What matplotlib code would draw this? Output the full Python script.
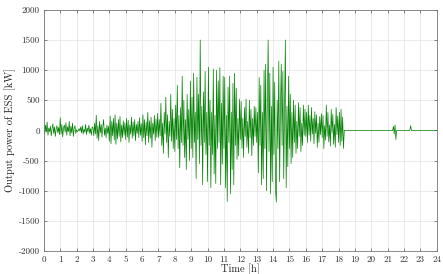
import numpy as np
import matplotlib
matplotlib.use("Agg")
import matplotlib.pyplot as plt

plt.rcParams['font.family'] = ['cmr10', 'DejaVu Serif']
plt.rcParams['axes.unicode_minus'] = False
plt.rcParams['mathtext.fontset'] = 'cm'

# ESS output power [kW], one value every 3 min (0.05 h), 0 h .. 18.3 h
busy_p = [
    20, -60, 90, -30, 140, -80, 40, -20, 70, -90, 30, 110, -50, 60, -100, 20, 80, -40, 50, -70,
    210, -60, 100, -110, 40, 90, -30, 130, -80, 60, -20, 150, -90, 70, -40, 120, -100, 30, 80, -50,
    10, -20, 0, 30, -10, 60, -40, 80, -60, 20, -30, 100, -70, 40, -20, 90, -50, 30, -80, 60,
    40, -90, 120, -60, 250, -130, 80, -170, 150, -40, 100, -110, 60, 180, -80, 40, -120, 90, -50, 70,
    -180, 240, -220, 150, -90, 200, -160, 260, -230, 120, -140, 180, -100, 230, -190, 90, -120, 160, -80, 130,
    -150, 200, -110, 170, -200, 90, -60, 220, -130, 140, -90, 180, -170, 100, -50, 150, -120, 210, -80, 110,
    -180, 260, -120, 180, -240, 140, -90, 300, -200, 160, -130, 220, -280, 120, -60, 250, -170, 190, -110, 280,
    -120, 180, -90, 450, -250, 120, -380, 300, -60, 550, -200, 260, -450, 150, -100, 600, -180, 350, -300, 200,
    -350, 420, -150, 750, -300, 250, -620, 380, -200, 900, -250, 500, -450, 180, -650, 600, -150, 350, -500, 820,
    -300, 550, -450, 950, -200, 300, -800, 880, -150, 600, -550, 1500, -250, 400, -900, 640, -200, 980, -400, 300,
    -850, 1050, -250, 500, -950, 300, -400, 1020, -720, 250, -880, 1000, -300, 820, -200, 1040, -900, 450, -560, 900,
    -300, 880, -950, 250, -1180, 720, -200, 900, -1050, 300, -650, 780, -900, 950, -250, 700, -480, 200, -420, 520,
    -150, 480, -300, 200, -450, 380, -100, 520, -280, 150, -380, 500, -120, 350, -420, 200, -250, 400, -100, 380,
    -200, 300, -700, 880, -250, 750, -900, 300, -800, 1000, -300, 1100, -1000, 450, 1500, -350, 950, -1050, 400, -850,
    1050, -400, 800, -1000, -1190, 500, -300, 1150, -850, 350, 1100, -250, 980, -800, 300, 1500, -950, 400, -600, 900,
    -300, 600, -550, 300, -450, 500, -200, 420, -380, 150, -300, 460, -100, 380, -350, 120, -250, 420, -80, 350,
    -100, 300, -200, 420, -80, 250, -180, 380, -60, 200, -220, 310, -50, 260, -280, 120, -200, 230, -70, 280,
    -120, 250, -300, 80, -160, 420, -100, 300, -190, 90, -260, 350, -50, 270, -230, 100, -280, 380, -70, 240,
    -200, 300, -250, 350, -180, 220, -300,
]
busy_t = np.arange(len(busy_p)) * 0.05

# idle period: zero except two short events
idle_t = [18.35, 21.3, 21.35, 21.4, 21.45, 21.5, 21.55, 22.35, 22.4, 22.45, 24.0]
idle_p = [0, 0, 70, -60, 90, -150, 0, 0, 80, 0, 0]

t = np.concatenate([busy_t, idle_t])
p = np.concatenate([busy_p, idle_p])

fig = plt.figure(figsize=(4.43, 2.74), dpi=100)
ax = fig.add_axes([0.099, 0.084, 0.887, 0.88])
ax.plot(t, p, color='#008000', linewidth=0.5)

ax.set_xlim(0, 24)
ax.set_ylim(-2000, 2000)
ax.set_xticks(range(0, 25))
ax.set_yticks(range(-2000, 2001, 500))
ax.grid(True, color='#e6e6e6', linewidth=0.6)
ax.set_axisbelow(True)
ax.tick_params(direction='in', top=True, right=True, length=2.5, width=0.5,
               labelsize=6.5, pad=3, colors='#555555', labelcolor='#333333')
for s in ax.spines.values():
    s.set_linewidth(0.6)
    s.set_color('#777777')
ax.set_xlabel('Time [h]', fontsize=7.5, labelpad=0, color='#222222')
ax.set_ylabel('Output power of ESS [kW]', fontsize=7.5, labelpad=2, color='#222222')

fig.savefig('out.png', dpi=100)
